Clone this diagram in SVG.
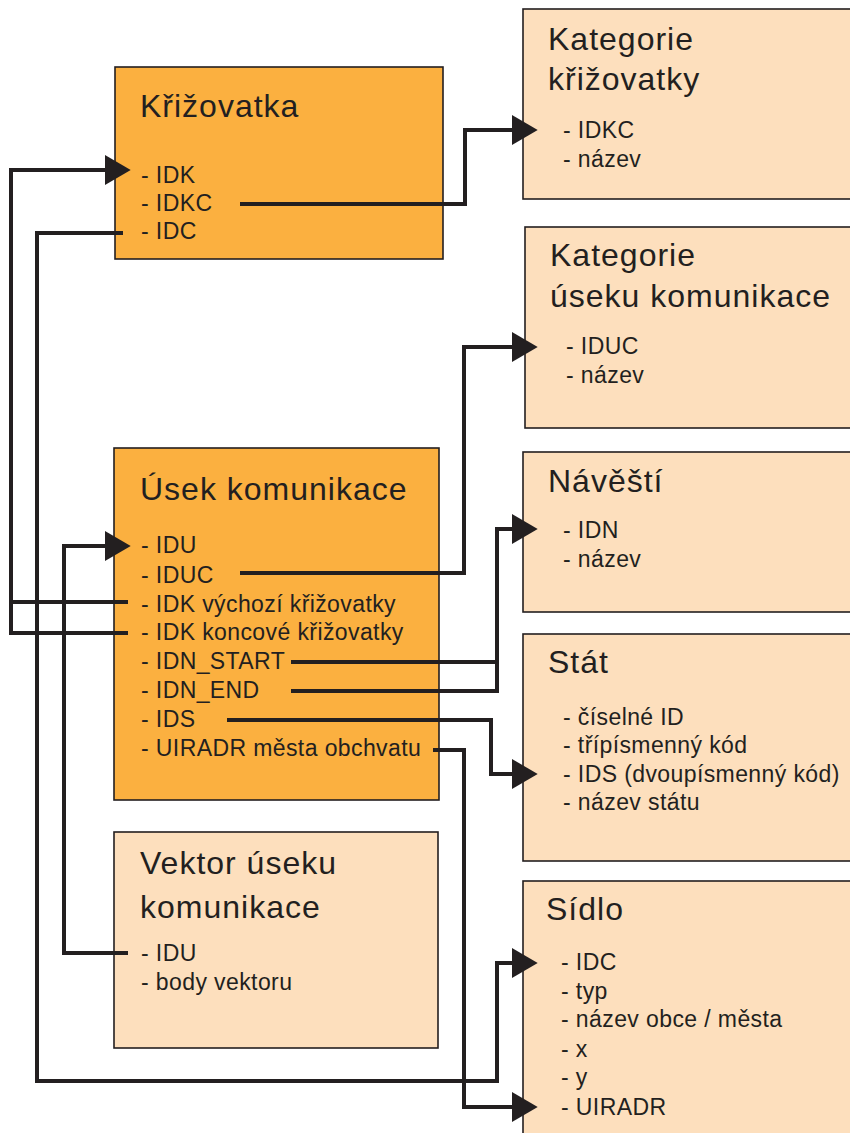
<svg xmlns="http://www.w3.org/2000/svg" width="850" height="1133" viewBox="0 0 850 1133">
  <style>
    .box { stroke: #231f20; stroke-width: 1.6; }
    .main { fill: #fbb040; }
    .ref { fill: #fddfbd; }
    .title { font-family: "Liberation Sans", Arial, sans-serif; font-size: 32px; letter-spacing: 1px; fill: #231f20; }
    .item { font-family: "Liberation Sans", Arial, sans-serif; font-size: 23px; letter-spacing: 0.4px; fill: #231f20; }
    .link { fill: none; stroke: #231f20; stroke-width: 4; stroke-linejoin: miter; stroke-linecap: butt; }
  </style>
  <defs>
    <marker id="arrow" markerUnits="userSpaceOnUse" markerWidth="26" markerHeight="30" refX="14" refY="14" orient="auto" viewBox="0 0 24 28">
      <path d="M0,0 L24,14 L0,28 Z" fill="#231f20"/>
    </marker>
  </defs>

  <rect width="850" height="1133" fill="#ffffff"/>

  <!-- entity: junction -->
  <g id="krizovatka">
    <rect class="box main" x="115" y="67" width="328" height="192"/>
    <text class="title" x="140" y="117">Křižovatka</text>
    <text class="item" x="141" y="183">- IDK</text>
    <text class="item" x="141" y="211">- IDKC</text>
    <text class="item" x="141" y="239">- IDC</text>
  </g>

  <!-- entity: junction category -->
  <g id="kategorie-krizovatky">
    <rect class="box ref" x="523" y="9" width="340" height="190"/>
    <text class="title" x="548" y="50">Kategorie</text>
    <text class="title" x="548" y="90">křižovatky</text>
    <text class="item" x="563" y="138">- IDKC</text>
    <text class="item" x="563" y="167">- název</text>
  </g>

  <!-- entity: road segment category -->
  <g id="kategorie-useku">
    <rect class="box ref" x="525" y="227" width="340" height="201"/>
    <text class="title" x="550" y="266">Kategorie</text>
    <text class="title" x="550" y="307">úseku komunikace</text>
    <text class="item" x="566" y="354">- IDUC</text>
    <text class="item" x="566" y="383">- název</text>
  </g>

  <!-- entity: signpost -->
  <g id="navesti">
    <rect class="box ref" x="523" y="452" width="340" height="160"/>
    <text class="title" x="548" y="492">Návěští</text>
    <text class="item" x="563" y="538">- IDN</text>
    <text class="item" x="563" y="567">- název</text>
  </g>

  <!-- entity: state -->
  <g id="stat">
    <rect class="box ref" x="523" y="634" width="340" height="227"/>
    <text class="title" x="548" y="673">Stát</text>
    <text class="item" x="563" y="725">- číselné ID</text>
    <text class="item" x="563" y="753">- třípísmenný kód</text>
    <text class="item" x="563" y="782">- IDS (dvoupísmenný kód)</text>
    <text class="item" x="563" y="810">- název státu</text>
  </g>

  <!-- entity: settlement -->
  <g id="sidlo">
    <rect class="box ref" x="523" y="881" width="340" height="300"/>
    <text class="title" x="546" y="920">Sídlo</text>
    <text class="item" x="561" y="970">- IDC</text>
    <text class="item" x="561" y="999">- typ</text>
    <text class="item" x="561" y="1027">- název obce / města</text>
    <text class="item" x="561" y="1057">- x</text>
    <text class="item" x="561" y="1085">- y</text>
    <text class="item" x="561" y="1115">- UIRADR</text>
  </g>

  <!-- entity: road segment -->
  <g id="usek-komunikace">
    <rect class="box main" x="114" y="448" width="325" height="352"/>
    <text class="title" x="140" y="500">Úsek komunikace</text>
    <text class="item" x="141" y="553">- IDU</text>
    <text class="item" x="141" y="583">- IDUC</text>
    <text class="item" x="141" y="612">- IDK výchozí křižovatky</text>
    <text class="item" x="141" y="640">- IDK koncové křižovatky</text>
    <text class="item" x="141" y="669">- IDN_START</text>
    <text class="item" x="141" y="698">- IDN_END</text>
    <text class="item" x="141" y="727">- IDS</text>
    <text class="item" x="141" y="756">- UIRADR města obchvatu</text>
  </g>

  <!-- entity: road segment geometry -->
  <g id="vektor-useku">
    <rect class="box ref" x="114" y="832" width="324" height="216"/>
    <text class="title" x="140" y="874">Vektor úseku</text>
    <text class="title" x="140" y="918">komunikace</text>
    <text class="item" x="141" y="961">- IDU</text>
    <text class="item" x="141" y="990">- body vektoru</text>
  </g>

  <!-- foreign-key links -->
  <g id="connectors">
    <path class="link" d="M240,204 H465 V130 H527" marker-end="url(#arrow)"/>
    <path class="link" d="M128,633 H11 V170 H120" marker-end="url(#arrow)"/>
    <path class="link" d="M128,602 H11"/>
    <path class="link" d="M123,233 H37 V1081 H497 V963 H527" marker-end="url(#arrow)"/>
    <path class="link" d="M128,953 H64 V546 H120" marker-end="url(#arrow)"/>
    <path class="link" d="M240,573 H464 V347 H527" marker-end="url(#arrow)"/>
    <path class="link" d="M291,662 H497 V529 H527" marker-end="url(#arrow)"/>
    <path class="link" d="M291,691 H497 V660"/>
    <path class="link" d="M227,720 H491 V774 H527" marker-end="url(#arrow)"/>
    <path class="link" d="M433,750 H464 V1107 H527" marker-end="url(#arrow)"/>
  </g>
</svg>
